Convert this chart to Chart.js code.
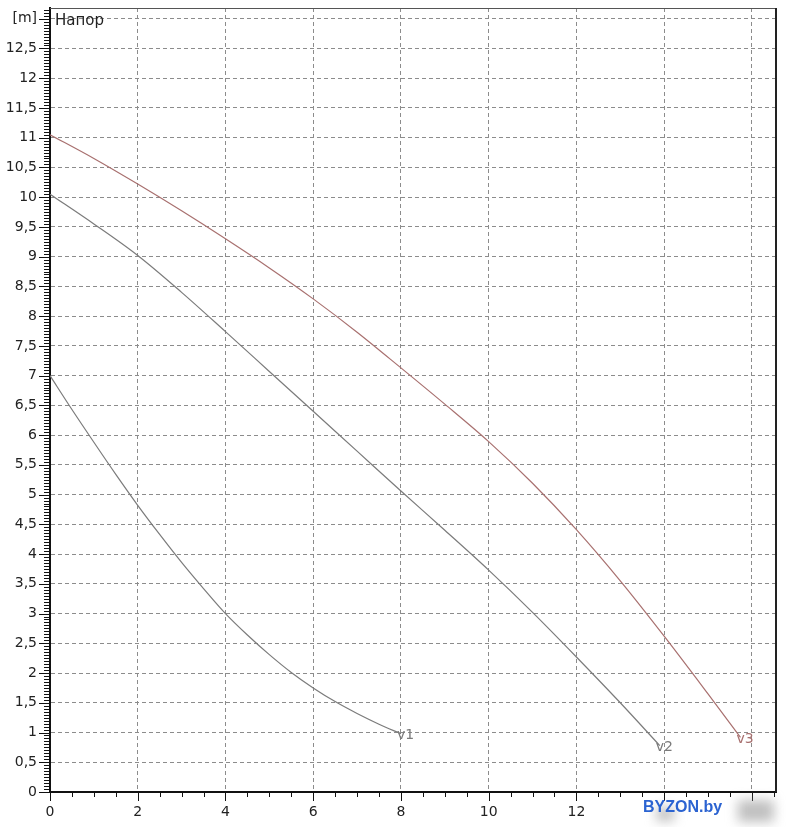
<!DOCTYPE html>
<html>
<head>
<meta charset="utf-8">
<script src="https://cdn.jsdelivr.net/npm/chart.js@4/dist/chart.umd.min.js"></script>
<style>
    html, body { margin: 0; padding: 0; background: #fff; }
    #wrap { width: 791px; height: 827px; position: relative; }
</style>
</head>
<body>
<div id="wrap"><canvas id="pumpChart"></canvas></div>
<script>
// Q [m3/h] vs head [m], three speed stages
const v1Flow = [0, 0.5, 1, 1.5, 2, 2.5, 3, 3.5, 4, 4.5, 5, 5.5, 6, 6.5, 7, 7.5, 8];
const v1Head = [7.0, 6.43, 5.88, 5.34, 4.82, 4.33, 3.86, 3.42, 3.0, 2.64, 2.31, 2.01, 1.75, 1.52, 1.32, 1.14, 0.98];

const v2Flow = [0, 1, 2, 3, 4, 5, 6, 7, 8, 9, 10, 11, 12, 13, 13.9];
const v2Head = [10.05, 9.55, 9.02, 8.4, 7.74, 7.07, 6.4, 5.73, 5.06, 4.4, 3.73, 3.02, 2.27, 1.5, 0.78];

const v3Flow = [0, 1, 2, 3, 4, 5, 6, 7, 8, 9, 10, 11, 12, 13, 14, 15, 15.74];
const v3Head = [11.05, 10.65, 10.22, 9.77, 9.3, 8.81, 8.29, 7.73, 7.13, 6.52, 5.89, 5.19, 4.41, 3.55, 2.62, 1.65, 0.92];

const xTicks = [0, 2, 4, 6, 8, 10, 12, 14, 16];
const xTickLabels = ["0", "2", "4", "6", "8", "10", "12", "", ""]; // 14 and 16 are blurred out in the source
const yTicks = [0, 0.5, 1, 1.5, 2, 2.5, 3, 3.5, 4, 4.5, 5, 5.5, 6, 6.5, 7, 7.5, 8, 8.5, 9, 9.5, 10, 10.5, 11, 11.5, 12, 12.5, 13];
const yTickLabels = ["0", "0,5", "1", "1,5", "2", "2,5", "3", "3,5", "4", "4,5", "5", "5,5", "6", "6,5", "7", "7,5", "8", "8,5", "9", "9,5", "10", "10,5", "11", "11,5", "12", "12,5", "[m]"];

const curveNames = ["v1", "v2", "v3"];
const curveColors = ["#7b7b7b", "#7b7b7b", "#a8706f"];

const X_MAX = 16.55;
const Y_MAX = 13.18;

function toPoints(xs, ys) {
    return xs.map((x, i) => ({ x: x, y: ys[i] }));
}

const gridColor = (ctx) => (ctx.tick && ctx.tick.value === 0 ? "transparent" : "#8c8c8c");

// minor ticks, frame, curve labels, caption, watermark
const decorPlugin = {
    id: "decor",
    afterDraw(chart) {
        const ctx = chart.ctx;
        const xs = chart.scales.x;
        const ys = chart.scales.y;
        const area = chart.chartArea;
        ctx.save();

        // frame top + right
        ctx.strokeStyle = "#555";
        ctx.lineWidth = 1;
        ctx.beginPath();
        ctx.moveTo(area.left, area.top + 0.5);
        ctx.lineTo(area.right, area.top + 0.5);
        ctx.stroke();
        ctx.strokeStyle = "#222";
        ctx.lineWidth = 2;
        ctx.beginPath();
        ctx.moveTo(area.right, area.top);
        ctx.lineTo(area.right, area.bottom);
        ctx.stroke();

        // y minor ticks every 0.05
        ctx.strokeStyle = "#111";
        ctx.lineWidth = 1;
        ctx.beginPath();
        for (let i = 0; i * 0.05 <= Y_MAX; i++) {
            const py = Math.round(ys.getPixelForValue(i * 0.05)) + 0.5;
            const len = i % 10 === 0 ? 11 : 6;
            ctx.moveTo(area.left, py);
            ctx.lineTo(area.left - len, py);
        }
        // x minor ticks every 0.5
        for (let i = 0; i * 0.5 <= X_MAX; i++) {
            const px = Math.round(xs.getPixelForValue(i * 0.5)) + 0.5;
            const len = i % 4 === 0 ? 9 : 5;
            ctx.moveTo(px, area.bottom);
            ctx.lineTo(px, area.bottom + len);
        }
        ctx.stroke();

        // curve end labels
        ctx.font = "14px 'DejaVu Sans'";
        ctx.textAlign = "left";
        ctx.textBaseline = "middle";
        chart.data.datasets.forEach((ds, i) => {
            const last = ds.data[ds.data.length - 1];
            const px = xs.getPixelForValue(last.x);
            const py = ys.getPixelForValue(last.y);
            ctx.fillStyle = curveColors[i];
            ctx.fillText(curveNames[i], px - 4, py + 2);
        });

        // caption
        ctx.fillStyle = "#222";
        ctx.font = "15px 'DejaVu Sans'";
        ctx.textBaseline = "middle";
        ctx.fillText("Напор", area.left + 5, ys.getPixelForValue(13) + 2);

        // blurred spots where the 14 / 16 labels were
        ctx.filter = "blur(6px)";
        ctx.fillStyle = "rgba(140,140,140,0.55)";
        ctx.fillRect(xs.getPixelForValue(14) - 8, area.bottom + 15, 18, 14);
        ctx.fillRect(xs.getPixelForValue(16) - 14, area.bottom + 8, 36, 22);
        ctx.filter = "none";

        // watermark
        ctx.fillStyle = "#2b63d1";
        ctx.font = "bold 16px 'Liberation Sans'";
        ctx.textBaseline = "alphabetic";
        ctx.fillText("BYZON.by", 643, 812);

        ctx.restore();
    }
};

const lineStyle = (i) => ({
    borderColor: curveColors[i],
    borderWidth: 1.2,
    pointRadius: 0,
    showLine: true,
    fill: false,
    cubicInterpolationMode: "monotone"
});

new Chart(document.getElementById("pumpChart").getContext("2d"), {
    type: "scatter",
    data: {
        datasets: [
            Object.assign({ label: "v1", data: toPoints(v1Flow, v1Head) }, lineStyle(0)),
            Object.assign({ label: "v2", data: toPoints(v2Flow, v2Head) }, lineStyle(1)),
            Object.assign({ label: "v3", data: toPoints(v3Flow, v3Head) }, lineStyle(2))
        ]
    },
    options: {
        responsive: true,
        maintainAspectRatio: false,
        animation: false,
        layout: { padding: { top: 8, right: 15, left: 0, bottom: 0 } },
        plugins: {
            legend: { display: false },
            tooltip: { enabled: false }
        },
        scales: {
            x: {
                type: "linear",
                min: 0,
                max: X_MAX,
                afterBuildTicks: (s) => { s.ticks = xTicks.map((v) => ({ value: v })); },
                afterFit: (s) => { s.height = 35; s.paddingLeft = 0; s.paddingRight = 0; },
                ticks: {
                    autoSkip: false,
                    maxRotation: 0,
                    padding: 12,
                    color: "#222",
                    font: { family: "DejaVu Sans", size: 14 },
                    callback: (v) => xTickLabels[xTicks.indexOf(v)] ?? ""
                },
                grid: { color: gridColor, lineWidth: 1, drawTicks: false },
                border: { display: true, color: "#111", width: 2, dash: [4, 3] }
            },
            y: {
                type: "linear",
                min: 0,
                max: Y_MAX,
                afterBuildTicks: (s) => { s.ticks = yTicks.map((v) => ({ value: v })); },
                afterFit: (s) => { s.width = 50; s.paddingTop = 0; s.paddingBottom = 0; },
                ticks: {
                    autoSkip: false,
                    padding: 13,
                    color: "#222",
                    font: { family: "DejaVu Sans", size: 14 },
                    callback: (v) => yTickLabels[yTicks.indexOf(v)] ?? ""
                },
                grid: { color: gridColor, lineWidth: 1, drawTicks: false },
                border: { display: true, color: "#111", width: 2, dash: [4, 3] }
            }
        }
    },
    plugins: [decorPlugin]
});
</script>
</body>
</html>
